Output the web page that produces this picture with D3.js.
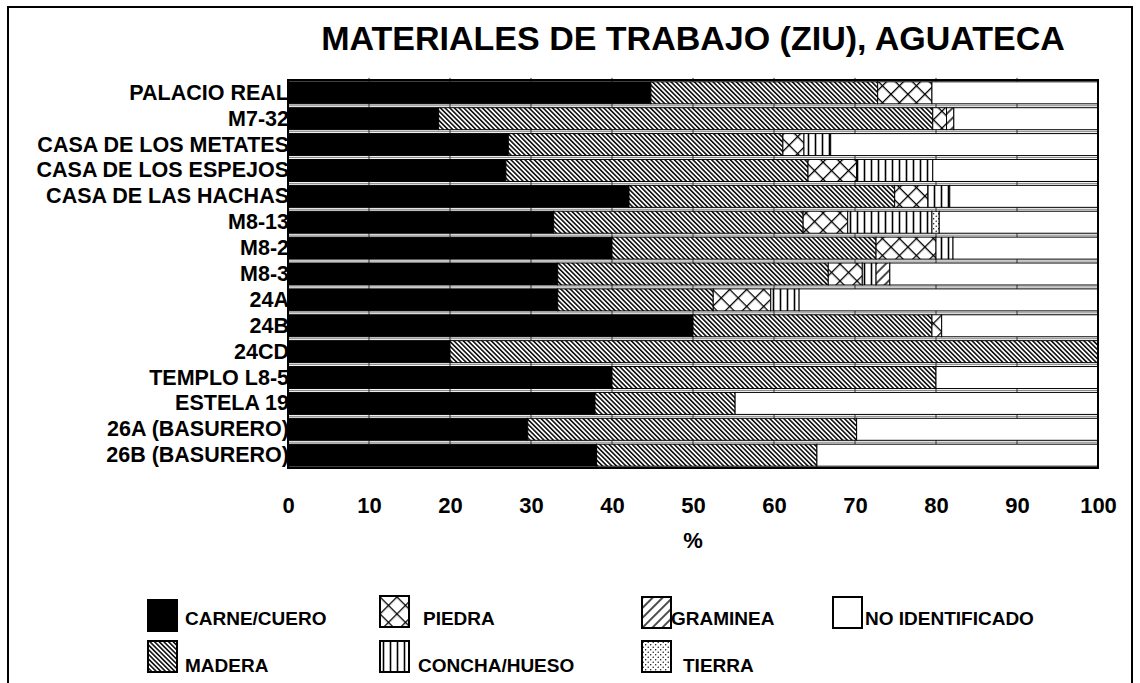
<!DOCTYPE html>
<html>
<head>
<meta charset="utf-8">
<script src="https://cdn.jsdelivr.net/npm/d3@7"></script>
<style>
  body { margin: 0; background: #fff; }
  text { font-family: "Liberation Sans", Arial, sans-serif; font-weight: bold; fill: #000; }
</style>
</head>
<body>
<div id="chart"></div>
<script>
// datos (porcentajes por estructura)
const categories = ["PALACIO REAL", "M7-32", "CASA DE LOS METATES", "CASA DE LOS ESPEJOS",
  "CASA DE LAS HACHAS", "M8-13", "M8-2", "M8-3", "24A", "24B", "24CD", "TEMPLO  L8-5",
  "ESTELA 19", "26A (BASURERO)", "26B (BASURERO)"];
const carne    = [44.8, 18.6, 27.2, 26.9, 42.1, 32.8, 40.0, 33.3, 33.3, 50.0, 20.0, 40.0, 37.9, 29.6, 38.1];
const madera   = [28.0, 61.0, 33.9, 37.3, 32.8, 30.8, 32.6, 33.4, 19.2, 29.5, 80.0, 40.0, 17.3, 40.6, 27.2];
const piedra   = [6.7, 1.7, 2.6, 6.0, 4.1, 5.5, 7.4, 4.2, 7.1, 1.2, 0, 0, 0, 0, 0];
const concha   = [0, 0, 3.3, 9.4, 2.7, 10.4, 2.1, 1.7, 3.5, 0, 0, 0, 0, 0, 0];
const graminea = [0, 0.9, 0, 0, 0, 0, 0, 1.7, 0, 0, 0, 0, 0, 0, 0];
const tierra   = [0, 0, 0, 0, 0, 0.9, 0, 0, 0, 0, 0, 0, 0, 0, 0];
const noIdent  = [20.5, 17.8, 33.0, 20.4, 18.3, 19.6, 17.9, 25.7, 36.9, 19.3, 0, 20.0, 44.8, 29.8, 34.7];
const xTicks = [0, 10, 20, 30, 40, 50, 60, 70, 80, 90, 100];

const seriesKeys = ["carne", "madera", "piedra", "concha", "graminea", "tierra", "noIdent"];
const seriesValues = { carne, madera, piedra, concha, graminea, tierra, noIdent };
const seriesNames = { carne: "CARNE/CUERO", madera: "MADERA", piedra: "PIEDRA", concha: "CONCHA/HUESO",
  graminea: "GRAMINEA", tierra: "TIERRA", noIdent: "NO IDENTIFICADO" };

const width = 1140, height = 683;
const plot = { left: 288, right: 1098, top: 80, bottom: 468 };

const svg = d3.select("#chart").append("svg")
  .attr("width", width).attr("height", height);

// patrones de relleno
const defs = svg.append("defs");
const pat = (id, w, h, rot) => defs.append("pattern")
  .attr("id", id).attr("patternUnits", "userSpaceOnUse")
  .attr("width", w).attr("height", h)
  .attr("patternTransform", rot ? `rotate(${rot})` : null);

let p = pat("p-madera", 3.3, 10, -45);
p.append("rect").attr("width", 3.3).attr("height", 10).attr("fill", "#fff");
p.append("line").attr("x1", 0.8).attr("x2", 0.8).attr("y1", 0).attr("y2", 10).attr("stroke", "#000").attr("stroke-width", 1.5);

p = pat("p-piedra", 12, 12, 45);
p.append("rect").attr("width", 12).attr("height", 12).attr("fill", "#fff");
p.append("line").attr("x1", 0.6).attr("x2", 0.6).attr("y1", 0).attr("y2", 12).attr("stroke", "#000").attr("stroke-width", 1.4);
p.append("line").attr("x1", 0).attr("x2", 12).attr("y1", 0.6).attr("y2", 0.6).attr("stroke", "#000").attr("stroke-width", 1.4);

p = pat("p-concha", 7, 10);
p.append("rect").attr("width", 7).attr("height", 10).attr("fill", "#fff");
p.append("line").attr("x1", 3.5).attr("x2", 3.5).attr("y1", 0).attr("y2", 10).attr("stroke", "#000").attr("stroke-width", 1.6);

p = pat("p-graminea", 7, 10, 45);
p.append("rect").attr("width", 7).attr("height", 10).attr("fill", "#fff");
p.append("line").attr("x1", 1).attr("x2", 1).attr("y1", 0).attr("y2", 10).attr("stroke", "#000").attr("stroke-width", 1.4);

p = pat("p-tierra", 5, 5);
p.append("rect").attr("width", 5).attr("height", 5).attr("fill", "#fff");
p.append("circle").attr("cx", 1.2).attr("cy", 1.2).attr("r", 0.7).attr("fill", "#000");
p.append("circle").attr("cx", 3.7).attr("cy", 3.7).attr("r", 0.7).attr("fill", "#000");

const fills = { carne: "#000", madera: "url(#p-madera)", piedra: "url(#p-piedra)", concha: "url(#p-concha)",
  graminea: "url(#p-graminea)", tierra: "url(#p-tierra)", noIdent: "#fff" };

// marco exterior
svg.append("rect").attr("x", 8).attr("y", 7).attr("width", 1124).attr("height", 690)
  .attr("fill", "none").attr("stroke", "#000").attr("stroke-width", 2);

// titulo
svg.append("text").attr("x", 693).attr("y", 50).attr("text-anchor", "middle")
  .style("font-size", "34px").text("MATERIALES DE TRABAJO (ZIU), AGUATECA");

// escalas
const x = d3.scaleLinear().domain([0, 100]).range([plot.left, plot.right]);
const y = d3.scaleBand().domain(categories).range([plot.top, plot.bottom]).paddingInner(0.15).paddingOuter(0.07);

// etiquetas de categorias
svg.append("g").selectAll("text").data(categories).join("text")
  .attr("x", 289).attr("y", d => y(d) + y.bandwidth() / 2 + 7)
  .attr("text-anchor", "end").style("font-size", "21.5px").text(d => d);

// lineas entre barras
const step = y.step();
const gapY = categories.map(d => y(d) - (step - y.bandwidth()) / 2);
svg.append("rect").attr("x", plot.left).attr("y", plot.top).attr("width", plot.right - plot.left)
  .attr("height", plot.bottom - plot.top).attr("fill", "#fff");
const grid = svg.append("g");
grid.selectAll("line.h").data(gapY).join("line")
  .attr("x1", plot.left).attr("x2", plot.right).attr("y1", d => d).attr("y2", d => d)
  .attr("stroke", "#888").attr("stroke-width", 1);
gapY.forEach(gy => {
  grid.selectAll(null).data(xTicks.slice(1, -1)).join("line")
    .attr("x1", d => x(d)).attr("x2", d => x(d)).attr("y1", gy - 2).attr("y2", gy + 2)
    .attr("stroke", "#333").attr("stroke-width", 1);
});

// barras apiladas
const rows = categories.map((c, i) => {
  const r = { cat: c };
  seriesKeys.forEach(k => r[k] = seriesValues[k][i]);
  return r;
});
const stacked = d3.stack().keys(seriesKeys)(rows);
svg.append("g").selectAll("g").data(stacked).join("g")
  .attr("fill", d => fills[d.key])
  .selectAll("rect").data(d => d.filter(s => s[1] - s[0] > 0)).join("rect")
  .attr("x", d => x(d[0])).attr("y", d => y(d.data.cat))
  .attr("width", d => x(d[1]) - x(d[0])).attr("height", y.bandwidth())
  .attr("stroke", "#000").attr("stroke-width", 1);

// marco del area de trazado
svg.append("rect").attr("x", plot.left).attr("y", plot.top).attr("width", plot.right - plot.left)
  .attr("height", plot.bottom - plot.top).attr("fill", "none").attr("stroke", "#000").attr("stroke-width", 2);

// eje x
const axis = svg.append("g").attr("transform", `translate(0,${497})`)
  .call(d3.axisBottom(x).tickValues(xTicks).tickSize(0).tickPadding(0));
axis.select(".domain").remove();
axis.selectAll("text").style("font-size", "22px").style("font-family", "'Liberation Sans Narrow', 'Liberation Sans', Arial, sans-serif")
  .style("font-weight", "bold").attr("fill", "#000");
svg.append("text").attr("x", 693).attr("y", 548).attr("text-anchor", "middle")
  .style("font-size", "22px").style("font-family", "'Liberation Sans Narrow', 'Liberation Sans', Arial, sans-serif").text("%");

// leyenda
const legend = [
  { key: "carne", x: 148, y: 600, tx: 37, ty: 25 }, { key: "madera", x: 148, y: 641, tx: 37, ty: 31 },
  { key: "piedra", x: 380, y: 596, tx: 43, ty: 29 }, { key: "concha", x: 380, y: 641, tx: 38, ty: 31 },
  { key: "graminea", x: 642, y: 597, tx: 29, ty: 28 }, { key: "tierra", x: 642, y: 641, tx: 41, ty: 31 },
  { key: "noIdent", x: 833, y: 597, tx: 32, ty: 28 }
];
const lg = svg.append("g").selectAll("g").data(legend).join("g")
  .attr("transform", d => `translate(${d.x},${d.y})`);
lg.append("rect").attr("width", 29).attr("height", 31)
  .attr("fill", d => fills[d.key]).attr("stroke", "#000").attr("stroke-width", 2);
lg.append("text").attr("x", d => d.tx).attr("y", d => d.ty)
  .style("font-size", "19px").text(d => seriesNames[d.key]);
</script>
</body>
</html>
